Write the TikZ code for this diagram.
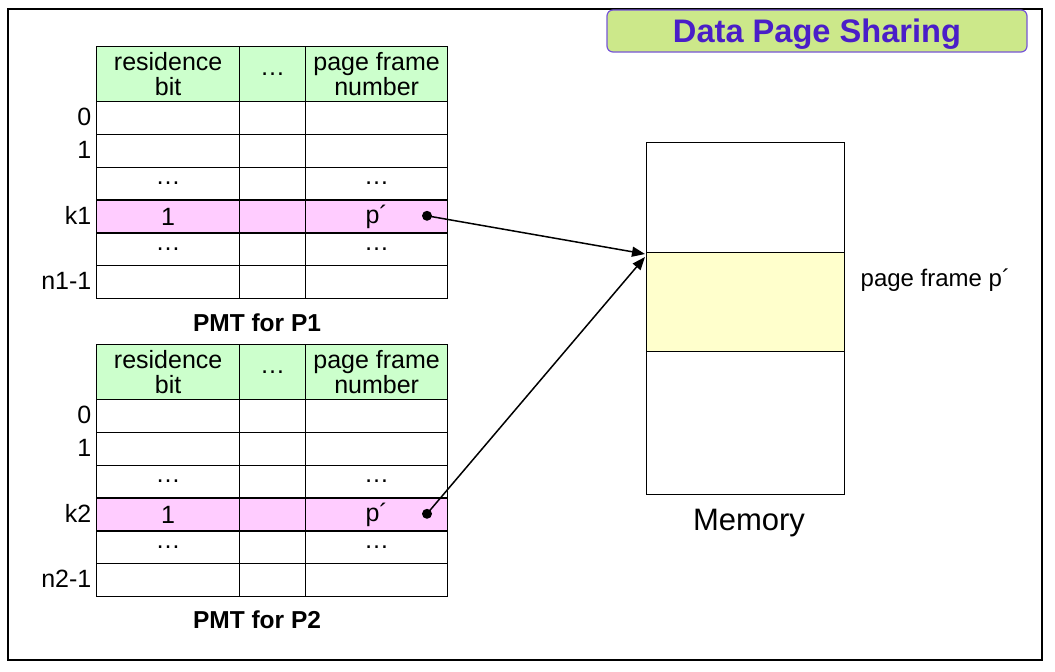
\documentclass[tikz,border=0pt]{standalone}
\usepackage{fontspec}
\setmainfont{Liberation Sans}
\usepackage{tikz}
\usetikzlibrary{positioning, calc, arrows.meta}
\tikzset{>={Triangle[length=13pt, width=10pt]}}
\definecolor{headgreen}{HTML}{CCFFCC}
\definecolor{rowpink}{HTML}{FFCCFF}
\definecolor{frameyellow}{HTML}{FFFFCC}
\definecolor{titlegreen}{HTML}{CCE88A}
\definecolor{titleblue}{HTML}{4A1EC8}

\begin{document}
\begin{tikzpicture}
    [x=1pt, y=-1pt, line width=1.3pt,
     cell/.style={draw, anchor=north west, inner sep=0pt, minimum height=32.8pt,
       font=\fontsize{25}{25}\selectfont},
     head/.style={cell, fill=headgreen, minimum height=55pt, align=center},
     rowlabel/.style={anchor=east, inner sep=0pt, font=\fontsize{25}{25}\selectfont},
     caption/.style={inner sep=0pt, font=\bfseries\fontsize{24.5}{26}\selectfont},
     memcell/.style={draw, anchor=north west, inner sep=0pt, minimum width=198pt},
     dot/.style={circle, fill, inner sep=0pt, minimum size=10pt}]
    \useasboundingbox (0,0) rectangle (1055,672);
    \draw[line width=1.5pt] (8,9) rectangle (1042,660);

    \node[draw=titleblue!75, fill=titlegreen, rounded corners=6pt, line width=1.2pt,
      minimum width=420pt, minimum height=42pt, text=titleblue, text depth=0pt,
      font=\bfseries\fontsize{32.6}{34}\selectfont] (title) at (817,31) {Data Page Sharing};

    % the two page map tables
    \foreach \t/\top in {1/46, 2/344} {
      \node[head, minimum width=143pt] (h\t-a) at (96,\top) {residence\\bit};
      \node[head, minimum width=66pt] (h\t-b) at (239,\top) {…};
      \node[head, minimum width=142pt] (h\t-c) at (305,\top) {page frame\\number};
      \foreach \r/\lab/\va/\vc/\bg in {0/0/{}/{}/white, 1/1/{}/{}/white,
          2/{}/…/…/white, 3/k\t/1/p´/rowpink, 4/{}/…/…/white, 5/n\t-1/{}/{}/white} {
        \node[cell, fill=\bg, minimum width=143pt] (r\t-\r-a) at (96,\top+55+\r*32.8) {\va};
        \node[cell, fill=\bg, minimum width=66pt] (r\t-\r-b) at (239,\top+55+\r*32.8) {};
        \node[cell, fill=\bg, minimum width=142pt] (r\t-\r-c) at (305,\top+55+\r*32.8) {\vc};
        \node[rowlabel] (l\t-\r) at (92,\top+55+\r*32.8+16) {\lab};
      }
      \node[dot] (d\t) at (427,\top+55+3*32.8+16.4) {};
    }
    \node[caption] (c1) at (257,323) {PMT for P1};
    \node[caption] (c2) at (257,620) {PMT for P2};

    % memory
    \node[memcell, minimum height=110pt] (mtop) at (646,142) {};
    \node[memcell, minimum height=99pt, fill=frameyellow] (pf) at (646,252) {};
    \node[memcell, minimum height=143pt] (mbot) at (646,351) {};
    \node[font=\fontsize{31}{33}\selectfont] (mem) at (749,523) {Memory};
    \node[anchor=west, inner sep=0pt, font=\fontsize{24}{26}\selectfont] (pflabel)
      at (860,280) {page frame p´};

    \draw[->, line width=1.5pt] (d1.center) -- ($(pf.north west)+(-1,2)$);
    \draw[->, line width=1.5pt] (d2.center) -- ($(pf.north west)+(-1,5)$);
  \end{tikzpicture}
\end{document}
